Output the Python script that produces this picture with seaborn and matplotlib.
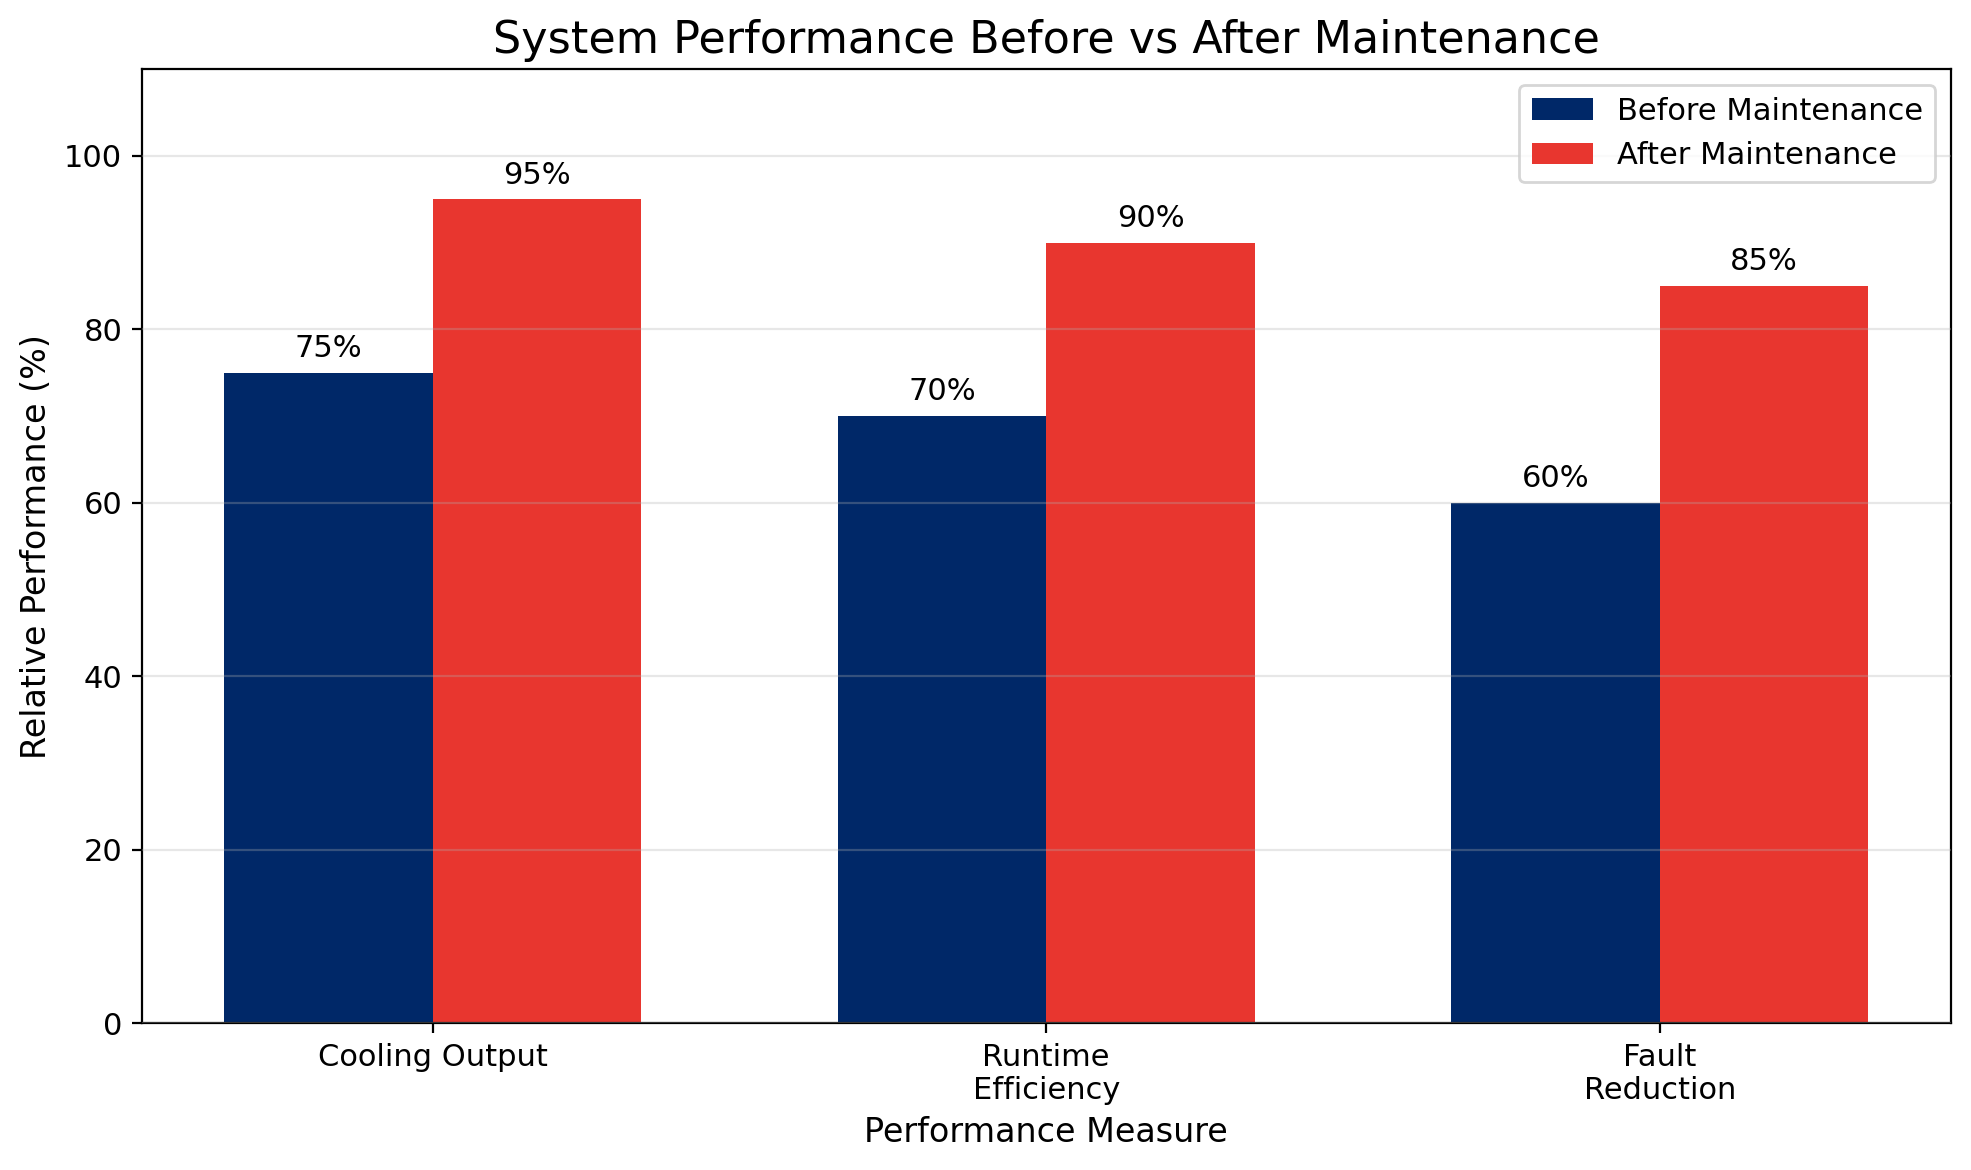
import matplotlib
matplotlib.use("Agg")
import matplotlib.pyplot as plt
import seaborn as sns
import pandas as pd

categories = ["Cooling Output", "Runtime\nEfficiency", "Fault\nReduction"]
before = [75, 70, 60]
after = [95, 90, 85]
series = ["Before Maintenance", "After Maintenance"]
colors = ["#002868", "#E8362F"]

df = pd.DataFrame({
    "Measure": categories * 2,
    "Value": before + after,
    "Series": [series[0]] * 3 + [series[1]] * 3,
})

plt.rcParams['font.family'] = ['DejaVu Sans']
plt.rcParams['font.size'] = 11

fig = plt.figure(figsize=(9.855, 5.85), dpi=200)
ax = fig.add_axes([0.0719, 0.1254, 0.9897 - 0.0719, 0.9408 - 0.1254])
sns.barplot(data=df, x="Measure", y="Value", hue="Series", order=categories,
            hue_order=series, palette=colors, width=0.68, saturation=1,
            linewidth=0, ax=ax, errorbar=None)

for container in ax.containers:
    ax.bar_label(container, labels=[f"{v:.0f}%" for v in container.datavalues],
                 padding=3.5, fontsize=11, color="black")

ax.set_ylim(0, 110)
ax.set_xlim(-0.474, 2.474)
ax.set_title("System Performance Before vs After Maintenance", fontsize=16, color="black")
ax.set_xlabel("Performance Measure", fontsize=12, color="black")
ax.set_ylabel("Relative Performance (%)", fontsize=12, color="black")
ax.tick_params(axis="both", labelsize=11, colors="black", left=True, bottom=True)
for s in ax.spines.values():
    s.set_color("black")
    s.set_linewidth(0.8)
ax.yaxis.grid(True, color="#b0b0b0", linewidth=0.8, alpha=0.3)
ax.xaxis.grid(False)
ax.set_axisbelow(False)
ax.legend(loc="upper right", fontsize=11, title=None)

fig.savefig("out.png", dpi=200)
